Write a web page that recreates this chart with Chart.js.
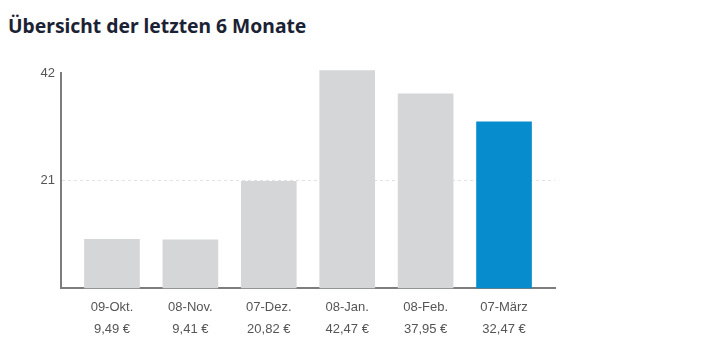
<!DOCTYPE html>
<html lang="de">
<head>
<meta charset="utf-8">
<script src="https://cdn.jsdelivr.net/npm/chart.js@4/dist/chart.umd.min.js"></script>
<style>
  html, body { margin: 0; padding: 0; background: #fff; }
  #wrap { position: relative; width: 721px; height: 355px; overflow: hidden; }
  h2 {
    position: absolute; left: 8px; top: 12px; margin: 0;
    font: bold 19.3px "Noto Sans", sans-serif; color: #1b2233;
  }
  canvas { position: absolute; left: 0; top: 0; }
</style>
</head>
<body>
<div id="wrap">
  <h2>Übersicht der letzten 6 Monate</h2>
  <canvas id="chart" width="721" height="355"></canvas>
</div>
<script>
  // ========== DATA ==========
  const months = ["09-Okt.", "08-Nov.", "07-Dez.", "08-Jan.", "08-Feb.", "07-März"];
  const amounts = [9.49, 9.41, 20.82, 42.47, 37.95, 32.47];
  const amountLabels = ["9,49 €", "9,41 €", "20,82 €", "42,47 €", "37,95 €", "32,47 €"];
  const yTicks = [21, 42];

  const GREY = "#d4d6d8";
  const BLUE = "#078dcd";
  const AXIS = "#7d7d7d";

  const points = amounts.map((v, i) => ({ x: i, y: v }));
  const colors = amounts.map((_, i) => i === amounts.length - 1 ? BLUE : GREY);

  new Chart(document.getElementById("chart"), {
    type: "bar",
    data: {
      datasets: [{
        data: points,
        backgroundColor: colors,
        borderWidth: 0,
        barThickness: 55,
        clip: false
      }]
    },
    options: {
      responsive: false,
      animation: false,
      layout: { padding: { left: 0, right: 166, top: 73, bottom: 0 } },
      plugins: { legend: { display: false }, tooltip: { enabled: false } },
      scales: {
        x: {
          type: "linear",
          offset: false,
          min: -0.65,
          max: 5.65,
          afterBuildTicks: s => { s.ticks = months.map((_, i) => ({ value: i })); },
          afterFit: s => { s.height = 67; },
          grid: { display: false, drawTicks: false },
          border: { display: true, color: AXIS, width: 2 },
          ticks: {
            autoSkip: false,
            maxRotation: 0,
            padding: 8,
            color: "#555",
            font: { family: "'Liberation Sans', Arial, sans-serif", size: 13, lineHeight: 1.7 },
            callback: v => [months[v], amountLabels[v]]
          }
        },
        y: {
          min: 0,
          max: 42,
          afterBuildTicks: s => { s.ticks = yTicks.map(v => ({ value: v })); },
          afterFit: s => { s.width = 61; },
          grid: {
            drawTicks: false,
            color: c => c.tick && c.tick.value === 21 ? "#e2e2e2" : "rgba(0,0,0,0)"
          },
          border: { display: true, color: AXIS, width: 2, dash: [3, 3] },
          ticks: {
            padding: 6,
            color: "#555",
            font: { family: "'Liberation Sans', Arial, sans-serif", size: 13 }
          }
        }
      }
    }
  });
</script>
</body>
</html>
